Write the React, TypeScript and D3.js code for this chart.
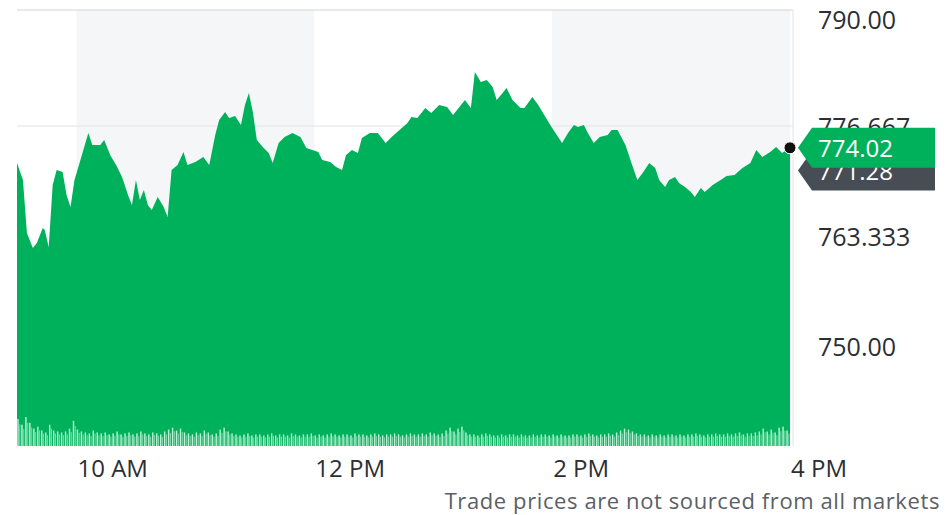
import React from 'react';
import * as d3 from 'd3';

// intraday price trace
const times = [
  '9:30', '9:33', '9:35', '9:38', '9:40', '9:43', '9:44', '9:46', '9:48', '9:50',
  '9:53', '9:55', '9:57', '9:59', '10:02', '10:06', '10:08', '10:12', '10:14', '10:17',
  '10:20', '10:23', '10:26', '10:28', '10:30', '10:32', '10:34', '10:36', '10:38', '10:41',
  '10:44', '10:46', '10:48', '10:51', '10:54', '10:56', '11:00', '11:04', '11:07', '11:10',
  '11:12', '11:15', '11:17', '11:20', '11:23', '11:25', '11:27', '11:29', '11:31', '11:34',
  '11:37', '11:39', '11:42', '11:45', '11:49', '11:53', '11:56', '11:59', '12:02', '12:04',
  '12:08', '12:11', '12:14', '12:16', '12:19', '12:22', '12:24', '12:28', '12:32', '12:36',
  '12:39', '12:43', '12:47', '12:49', '12:52', '12:56', '12:59', '13:03', '13:07', '13:10',
  '13:14', '13:16', '13:19', '13:21', '13:24', '13:27', '13:30', '13:32', '13:35', '13:37',
  '13:40', '13:44', '13:46', '13:50', '13:53', '13:56', '14:00', '14:03', '14:05', '14:08',
  '14:11', '14:13', '14:16', '14:18', '14:21', '14:24', '14:28', '14:30', '14:33', '14:37',
  '14:40', '14:43', '14:46', '14:49', '14:52', '14:54', '14:57', '14:59', '15:02', '15:04',
  '15:07', '15:10', '15:12', '15:15', '15:17', '15:21', '15:25', '15:28', '15:32', '15:36',
  '15:40', '15:43', '15:46', '15:50', '15:53', '15:56', '16:00'
];

const prices = [
  772.18, 770.12, 763.7, 761.88, 762.48, 764.3, 764.06, 762.0, 769.52, 771.33,
  771.09, 768.3, 766.85, 770.12, 772.55, 775.82, 774.36, 774.36, 774.97, 773.15,
  771.94, 770.48, 768.3, 767.09, 770.12, 767.7, 768.91, 767.09, 766.48, 768.06,
  766.85, 765.64, 771.33, 771.94, 773.52, 771.94, 772.3, 772.91, 771.94, 775.58,
  777.39, 778.36, 777.64, 777.88, 776.79, 779.21, 780.67, 778.36, 774.97, 774.12,
  773.39, 772.18, 774.61, 775.33, 775.82, 775.33, 774.0, 773.76, 773.52, 772.55,
  772.3, 771.7, 771.33, 773.15, 773.76, 773.39, 775.21, 775.82, 775.82, 774.61,
  775.33, 776.18, 777.03, 777.76, 777.64, 778.85, 778.24, 779.21, 778.97, 778.0,
  779.21, 779.82, 778.85, 783.21, 782.0, 782.24, 781.39, 779.82, 780.67, 781.27,
  779.82, 778.85, 778.85, 780.18, 779.21, 778.0, 776.42, 775.33, 774.61, 775.82,
  776.79, 776.55, 776.79, 775.82, 774.61, 775.33, 775.58, 776.18, 776.18, 774.36,
  772.18, 770.12, 771.09, 772.18, 771.58, 770.12, 769.27, 770.12, 770.48, 769.76,
  769.27, 768.67, 768.06, 769.15, 768.67, 769.52, 770.12, 770.61, 770.73, 771.58,
  772.18, 773.76, 772.91, 773.52, 774.12, 773.39, 774.02
];

// 2-minute volume bars, thousands of shares
const volumes = [
  28, 22, 30, 24, 18, 20, 16, 14, 22, 16, 15,
  14, 15, 18, 26, 17, 15, 14, 13, 16, 14,
  13, 14, 12, 13, 15, 12, 13, 14, 12, 13, 15, 13, 12, 14, 13, 12, 15, 17, 19, 16,
  18, 14, 13, 12, 14, 13, 16, 14, 12, 13, 17, 19, 15, 13, 12, 11, 12, 13, 11, 12,
  12, 11, 12, 13, 11, 12, 12, 11, 13, 12, 11, 12, 12, 13, 11, 12, 11, 12, 13, 12,
  11, 12, 12, 11, 13, 12, 12, 11, 12, 13, 12, 11, 12, 12, 13, 12, 11, 12, 13, 12,
  12, 13, 12, 14, 13, 12, 13, 16, 19, 15, 18, 20, 14, 12, 12, 11, 12, 13, 12, 11,
  11, 12, 11, 12, 12, 11, 12, 11, 11, 12, 11, 12, 12, 11, 12, 11, 12, 11, 11, 12,
  12, 11, 12, 13, 12, 11, 12, 12, 13, 12,
  14, 16, 18, 17, 15, 13, 12, 12, 11, 12,
  11, 12, 11, 12, 12, 11, 12, 11, 12, 12, 13, 12, 11, 12, 12, 13, 12, 12, 13, 12, 13, 14, 12, 13, 13,
  14, 15, 18, 15, 17, 14, 19, 20, 16
];

const yTicks = [750, 763.333, 776.667, 790];
const yTickLabels = ['750.00', '763.333', '776.667', '790.00'];
const shadedHours = [['10:00', '12:00'], ['14:00', '16:00']];
const lastPrice = 774.02;
const prevClose = 771.28;
const note = 'Trade prices are not sourced from all markets';

const W = 951;
const H = 515;
const left = 17;
const right = 790;
const top = 10;
const bottom = 446;

const GREEN = '#00b15c';
const FONT = '"Open Sans", "DejaVu Sans", sans-serif';

const parse = d3.timeParse('%H:%M');

const App: React.FC = () => {
  const data = times.map((t, i) => ({ t: parse(t) as Date, p: prices[i] }));

  const x = d3.scaleTime()
    .domain([parse('9:30') as Date, parse('16:00') as Date])
    .range([left, right]);

  const y = d3.scaleLinear().domain([750, 790]).range([346, 16]);

  const vol = d3.scaleLinear()
    .domain([0, d3.max(volumes) as number])
    .range([0, 29]);

  const area = d3.area<{ t: Date; p: number }>()
    .x(d => x(d.t))
    .y0(bottom)
    .y1(d => y(d.p));

  const xTicks = x.ticks(d3.timeHour.every(2) as d3.TimeInterval);
  const fmt = d3.timeFormat('%-I %p');
  const open = parse('9:30') as Date;

  const tag = (cy: number) =>
    `M${right + 8},${cy} L${right + 22},${cy - 20} L935,${cy - 20} L935,${cy + 20} L${right + 22},${cy + 20} Z`;

  const gy = y(lastPrice);
  const dy = y(prevClose);

  return (
    <svg width={W} height={H} style={{ position: 'absolute', left: 0, top: 0, fontFamily: FONT }}>
      <rect width={W} height={H} fill="#fff" />

      {shadedHours.map(([a, b]) => (
        <rect key={a} x={x(parse(a) as Date)} y={top}
          width={x(parse(b) as Date) - x(parse(a) as Date)} height={bottom - top}
          fill="#f5f6f7" />
      ))}

      <line x1={left} x2={right + 3} y1={y(776.667)} y2={y(776.667)} stroke="#e4e4e4" />
      <line x1={left} x2={right + 3} y1={top} y2={top} stroke="#d4d4d4" strokeWidth={1.2} />
      <line x1={right + 3} x2={right + 3} y1={top} y2={bottom} stroke="#e2e2e2" />

      <path d={area(data) as string} fill={GREEN} />

      {volumes.map((v, i) => {
        const bx = x(d3.timeMinute.offset(open, i * 2));
        return (
          <g key={i}>
            <rect x={bx + 0.3} y={bottom - vol(v)} width={1.4} height={vol(v)}
              fill="#d2f7e3" opacity={0.9} />
            <rect x={bx + 2.3} y={bottom - vol(v) * 0.8} width={1} height={vol(v) * 0.8}
              fill="#a9eecb" opacity={0.7} />
          </g>
        );
      })}

      {xTicks.map(t => (
        <text key={+t} x={x(t) + 1} y={477} fontSize={24} fill="#2b2f33">{fmt(t)}</text>
      ))}

      {yTicks.map((v, i) => (
        <text key={v} x={818} y={Math.max(y(v), 19)} dominantBaseline="central"
          fontSize={25} fill="#2b2f33">{yTickLabels[i]}</text>
      ))}

      <path d={tag(dy)} fill="#474d54" />
      <text x={818} y={dy} dominantBaseline="central" fontSize={24} fill="#fff">
        {prevClose.toFixed(2)}
      </text>

      <path d={tag(gy)} fill={GREEN} />
      <text x={818} y={gy} dominantBaseline="central" fontSize={24} fill="#fff">
        {lastPrice.toFixed(2)}
      </text>

      <circle cx={x(data[data.length - 1].t)} cy={gy} r={6} fill="#111" stroke="#fff" strokeWidth={1} />

      <text x={940} y={509} textAnchor="end" fontSize={22} letterSpacing={0.6} fill="#5b6065">{note}</text>
    </svg>
  );
};

export default App;
